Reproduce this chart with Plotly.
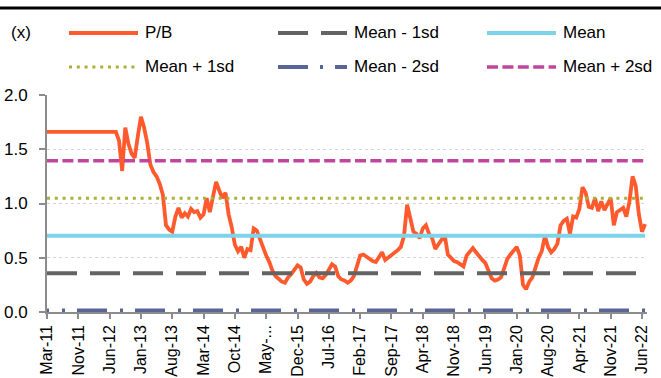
import plotly.graph_objects as go

# ---- data -------------------------------------------------------------
tick_labels = ["Mar-11", "Nov-11", "Jun-12", "Jan-13", "Aug-13", "Mar-14", "Oct-14",
               "May-...", "Dec-15", "Jul-16", "Feb-17", "Sep-17", "Apr-18", "Nov-18",
               "Jun-19", "Jan-20", "Aug-20", "Apr-21", "Nov-21", "Jun-22"]
points_per_label = 10

pb_values = [
    1.66, 1.66, 1.66, 1.66, 1.66, 1.66, 1.66, 1.66, 1.66, 1.66,
    1.66, 1.66, 1.66, 1.66, 1.66, 1.66, 1.66, 1.66, 1.66, 1.66,
    1.66, 1.66, 1.66, 1.58, 1.30, 1.70, 1.55, 1.46, 1.42, 1.62,
    1.80, 1.70, 1.56, 1.36, 1.29, 1.25, 1.18, 1.08, 0.80, 0.76,
    0.74, 0.88, 0.96, 0.87, 0.91, 0.88, 0.95, 0.92, 0.93, 0.87,
    0.90, 1.05, 0.92, 1.06, 1.20, 1.12, 1.05, 1.10, 0.90, 0.78,
    0.62, 0.56, 0.60, 0.50, 0.58, 0.57, 0.77, 0.75, 0.67, 0.60,
    0.52, 0.46, 0.38, 0.33, 0.30, 0.28, 0.27, 0.32, 0.35, 0.39,
    0.43, 0.41, 0.30, 0.26, 0.28, 0.33, 0.36, 0.32, 0.31, 0.34,
    0.40, 0.44, 0.42, 0.33, 0.30, 0.29, 0.27, 0.29, 0.33, 0.42,
    0.52, 0.53, 0.51, 0.48, 0.47, 0.46, 0.51, 0.55, 0.48, 0.50,
    0.53, 0.54, 0.57, 0.60, 0.70, 0.99, 0.86, 0.74, 0.72, 0.68,
    0.77, 0.80, 0.72, 0.68, 0.58, 0.62, 0.67, 0.71, 0.53, 0.50,
    0.47, 0.46, 0.44, 0.42, 0.52, 0.56, 0.59, 0.55, 0.51, 0.48,
    0.45, 0.38, 0.31, 0.29, 0.30, 0.32, 0.42, 0.49, 0.53, 0.57,
    0.60, 0.52, 0.25, 0.21, 0.28, 0.32, 0.42, 0.50, 0.56, 0.70,
    0.60, 0.55, 0.58, 0.63, 0.80, 0.84, 0.86, 0.72, 0.88, 0.87,
    0.95, 1.15, 1.10, 0.97, 0.96, 1.05, 0.93, 1.02, 0.94, 1.00,
    1.05, 0.80, 0.92, 0.94, 0.96, 0.88, 1.02, 1.25, 1.16, 0.90,
    0.74, 0.81,
]

band_names = ["Mean - 1sd", "Mean", "Mean + 1sd", "Mean - 2sd", "Mean + 2sd"]
band_levels = [0.358, 0.703, 1.048, 0.013, 1.393]

# ---- styles -------------------------------------------------------------
FONT = "Liberation Sans, Arial, sans-serif"
pb_style = dict(color="#FF5A2D", width=3.8, dash="solid")
band_styles = [
    dict(color="#636363", width=4, dash="30px,13px"),
    dict(color="#7DD3E8", width=4, dash="solid"),
    dict(color="#A6B23A", width=3, dash="3px,4.8px"),
    dict(color="#5A6597", width=4, dash="2px,13px,3px,12px,28px,0px"),
    dict(color="#C1449D", width=3.5, dash="11px,4.4px"),
]
# the legend sample of the dash-dot series starts on its long dash
legend_dash_override = {"Mean - 2sd": "30px,12px,3px,12px"}

W, H = 661, 378
ML, MR, MT, MB = 47, 14, 95, 66
PW, PH = W - ML - MR, H - MT - MB


def px_x(p):
    return (p - ML) / PW


def px_y(p):
    return (H - MB - p) / PH


x = list(range(len(pb_values)))
tick_vals = [i * points_per_label for i in range(len(tick_labels))]

fig = go.Figure()
fig.add_trace(go.Scatter(x=x, y=pb_values, mode="lines", name="P/B",
                         line=pb_style, showlegend=False))
for name, level, style in zip(band_names, band_levels, band_styles):
    fig.add_trace(go.Scatter(x=[x[0], x[-1]], y=[level, level], mode="lines",
                             name=name, line=style, showlegend=False))

# ---- legend (3 columns x 2 rows, long line samples) ---------------------
legend_names = ["P/B"] + band_names
legend_styles = [pb_style] + band_styles
legend_order = ["P/B", "Mean - 1sd", "Mean", "Mean + 1sd", "Mean - 2sd", "Mean + 2sd"]
col_x = [69, 278, 487]
row_y = [33, 67]
sample_len = 69

shapes = []
annotations = []
for k, name in enumerate(legend_order):
    style = legend_styles[legend_names.index(name)]
    dash = legend_dash_override.get(name, style["dash"])
    cx = col_x[k % 3]
    cy = row_y[k // 3]
    shapes.append(dict(type="line", xref="paper", yref="paper",
                       x0=px_x(cx), x1=px_x(cx + sample_len),
                       y0=px_y(cy), y1=px_y(cy),
                       line=dict(color=style["color"], width=style["width"],
                                 dash=dash)))
    annotations.append(dict(text=name, xref="paper", yref="paper",
                            x=px_x(cx + sample_len + 5), y=px_y(cy),
                            xanchor="left", yanchor="middle", showarrow=False,
                            font=dict(family=FONT, size=17, color="#000000")))

# unit label
annotations.append(dict(text="(x)", xref="paper", yref="paper",
                        x=px_x(9), y=px_y(33), xanchor="left", yanchor="middle",
                        showarrow=False,
                        font=dict(family=FONT, size=17, color="#000000")))

# rule across the top of the page
shapes.append(dict(type="line", xref="paper", yref="paper",
                   x0=px_x(0), x1=px_x(W), y0=px_y(8), y1=px_y(8),
                   line=dict(color="#000000", width=3)))

fig.update_layout(
    width=W, height=H,
    margin=dict(l=ML, r=MR, t=MT, b=MB, pad=0),
    paper_bgcolor="white", plot_bgcolor="white",
    font=dict(family=FONT, size=17, color="#000000"),
    shapes=shapes, annotations=annotations,
    showlegend=False,
)
fig.update_xaxes(
    range=[0, len(pb_values) - 0.4],
    tickmode="array", tickvals=tick_vals, ticktext=tick_labels,
    tickangle=-90, ticks="outside", ticklen=5, tickwidth=1.5, tickcolor="#8C8C8C",
    showline=True, linecolor="#8C8C8C", linewidth=1.5,
    showgrid=False, zeroline=False, automargin=False,
    tickfont=dict(family=FONT, size=16, color="#000000"),
)
fig.update_yaxes(
    range=[0, 2.0], dtick=0.5, tick0=0, tickformat=".1f",
    ticks="outside", ticklen=6, tickwidth=1.5, tickcolor="#8C8C8C",
    showline=True, linecolor="#8C8C8C", linewidth=2,
    showgrid=True, gridcolor="#D4D4D4", griddash="dot", gridwidth=1,
    zeroline=False, automargin=False, ticklabelstandoff=8,
    tickfont=dict(family=FONT, size=17, color="#000000"),
)

fig.write_html("out.html")
